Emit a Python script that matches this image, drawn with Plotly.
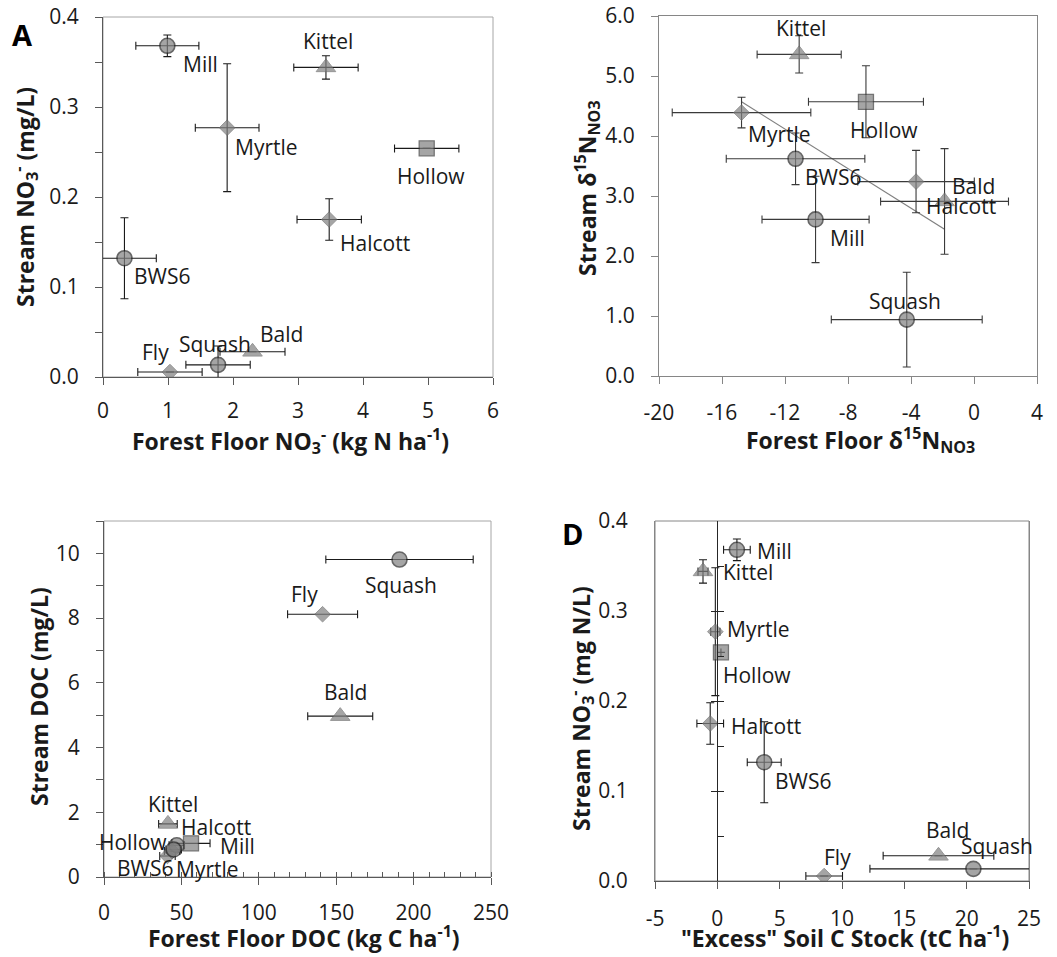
import numpy as np
import plotly.graph_objects as go

W, H = 1057, 957

# ---------------- data ----------------
sites = ["Mill", "Kittel", "Myrtle", "Hollow", "Halcott", "BWS6", "Fly", "Squash", "Bald"]

# Panel A: forest floor NO3- vs stream NO3-
a_ff_no3 = [0.99, 3.43, 1.91, 4.98, 3.48, 0.33, 1.03, 1.77, 2.30]
a_ff_no3_err = [0.485, 0.495, 0.49, 0.495, 0.495, 0.49, 0.495, 0.495, 0.50]
stream_no3 = [0.368, 0.344, 0.277, 0.254, 0.175, 0.132, 0.0055, 0.0135, 0.028]
a_stream_no3_err = [0.012, 0.013, 0.071, 0.0, 0.023, 0.045, 0.0, 0.021, 0.0]

# Panel B: forest floor d15N-NO3 vs stream d15N-NO3 (Fly not measured)
b_ff_d15n = [-10.06, -11.10, -14.76, -6.86, -3.68, -11.33, None, -4.27, -1.87]
b_ff_d15n_err = [3.4, 2.67, 4.4, 3.65, 3.7, 4.4, None, 4.79, 4.06]
b_stream_d15n = [2.61, 5.36, 4.39, 4.57, 3.24, 3.62, None, 0.94, 2.91]
b_stream_d15n_err = [0.72, 0.31, 0.255, 0.6, 0.52, 0.43, None, 0.79, 0.88]

# Panel C: forest floor DOC vs stream DOC
c_ff_doc = [47.0, 41.3, 41.0, 56.2, 44.0, 45.0, 141.2, 190.9, 152.6]
c_ff_doc_err = [5.0, 6.0, 5.0, 12.3, 5.0, 5.0, 22.6, 47.6, 21.0]
c_stream_doc = [0.98, 1.64, 0.65, 1.04, 0.80, 0.85, 8.12, 9.81, 4.97]

# Panel D: "excess" soil C stock vs stream NO3-
d_excess_c = [1.57, -1.15, -0.16, 0.29, -0.57, 3.76, 8.57, 20.54, 17.74]
d_excess_c_err = [1.07, 0.4, 0.37, 0.0, 1.07, 1.36, 1.47, 8.3, 4.44]
d_stream_no3_err = [0.012, 0.013, 0.071, 0.0, 0.023, 0.045, 0.0, 0.0, 0.0]

# tick labels
a_xticks = [0, 1, 2, 3, 4, 5, 6]
a_yticks = [0.0, 0.1, 0.2, 0.3, 0.4]
b_xticks = [-20, -16, -12, -8, -4, 0, 4]
b_xticklabels = ["-20", "-16", "-12", "-8", "-4", "0", "4"]
b_yticks = [0, 1, 2, 3, 4, 5, 6]
c_xticks = [0, 50, 100, 150, 200, 250]
c_yticks = [0, 2, 4, 6, 8, 10]
d_xticks = [-5, 0, 5, 10, 15, 20, 25]
d_xticklabels = ["-5", "0", "5", "10", "15", "20", "25"]
d_yticks = [0.0, 0.1, 0.2, 0.3, 0.4]

# ---------------- styles ----------------
FONT = "Open Sans"
TXT = "#1a1a1a"
FILL = "#808080"
SYM = {"Mill": "circle", "BWS6": "circle", "Squash": "circle", "Hollow": "square",
       "Kittel": "triangle-up", "Bald": "triangle-up",
       "Myrtle": "diamond", "Halcott": "diamond", "Fly": "diamond"}
SIZE = {"circle": 15, "square": 15, "triangle-up": 17, "diamond": 12}
LCOL = {"circle": "#262626", "square": "#3a3a3a", "triangle-up": "#6a6a6a", "diamond": "#6a6a6a"}
LWID = {"circle": 1.6, "square": 1.3, "triangle-up": 1.0, "diamond": 1.0}

# label offsets (pixels, dx right, dy down) relative to each point
A_OFF = {"Mill": (33, 18), "Kittel": (2, -26), "Myrtle": (39, 19), "Hollow": (4, 28),
         "Halcott": (46, 23), "BWS6": (38, 18), "Fly": (-14, -20), "Squash": (-3, -21),
         "Bald": (29, -18)}
B_OFF = {"Kittel": (2, -26), "Hollow": (18, 28), "Myrtle": (38, 21), "BWS6": (37, 18),
         "Mill": (32, 19), "Bald": (29, -15), "Halcott": (45, 24), "Squash": (-2, -19)}
C_OFF = {"Squash": (1, 25), "Fly": (-18, -20), "Bald": (5, -24), "Kittel": (5, -20),
         "Halcott": (44, -24), "Mill": (61, 1), "Hollow": (-58, -1), "BWS6": (-29, 19),
         "Myrtle": (40, 13)}
D_OFF = {"Mill": (38, 1), "Kittel": (45, 1), "Myrtle": (43, -3), "Hollow": (36, 23),
         "Halcott": (56, 2), "BWS6": (39, 19), "Fly": (13, -19), "Bald": (9, -26),
         "Squash": (24, -23)}


def fx(px):
    return px / W


def fy(py):
    return 1 - py / H


fig = go.Figure()
annotations = []


def add_panel(xs, ys, xerr, yerr, xa, ya, errcol, offsets):
    syms = [SYM[s] for s in sites]
    tr = dict(
        x=xs, y=ys, mode="markers", xaxis=xa, yaxis=ya, showlegend=False,
        hoverinfo="skip", cliponaxis=True,
        marker=dict(symbol=syms, size=[SIZE[s] for s in syms], color=FILL,
                    line=dict(color=[LCOL[s] for s in syms], width=[LWID[s] for s in syms])),
        error_x=dict(type="data", array=xerr, color=errcol, thickness=1.1, width=4),
    )
    if yerr is not None:
        tr["error_y"] = dict(type="data", array=yerr, color=errcol, thickness=1.1, width=4)
    fig.add_trace(go.Scatter(**tr))
    for s, x, y in zip(sites, xs, ys):
        if x is None or s not in offsets:
            continue
        dx, dy = offsets[s]
        annotations.append(dict(x=x, y=y, xref=xa, yref=ya, text=s, showarrow=False,
                                xshift=dx, yshift=-dy, xanchor="center", yanchor="middle",
                                font=dict(family=FONT, size=21, color=TXT)))


add_panel(a_ff_no3, stream_no3, a_ff_no3_err, a_stream_no3_err, "x", "y", "#1a1a1a", A_OFF)

# trendline for panel B (least squares over plotted points)
bx = np.array([v for v in b_ff_d15n if v is not None])
by = np.array([v for v in b_stream_d15n if v is not None])
slope, icpt = np.polyfit(bx, by, 1)
tx = np.array([bx.min(), bx.max()])
fig.add_trace(go.Scatter(x=tx, y=slope * tx + icpt, mode="lines", xaxis="x2", yaxis="y2",
                         line=dict(color="#7f7f7f", width=1.2), showlegend=False, hoverinfo="skip"))
add_panel(b_ff_d15n, b_stream_d15n, b_ff_d15n_err, b_stream_d15n_err, "x2", "y2", "#3a3a3a", B_OFF)
add_panel(c_ff_doc, c_stream_doc, c_ff_doc_err, None, "x3", "y3", "#1a1a1a", C_OFF)
add_panel(d_excess_c, stream_no3, d_excess_c_err, d_stream_no3_err, "x4", "y4", "#1a1a1a", D_OFF)
# empty traces so the zero-crossing axes of panel D get drawn
for ya in ("y5", "y6"):
    fig.add_trace(go.Scatter(x=[None], y=[None], xaxis="x4", yaxis=ya, mode="markers",
                             showlegend=False, hoverinfo="skip"))

TICKF = dict(family=FONT, size=21, color=TXT)
AX = dict(showgrid=False, zeroline=False, showline=True, linewidth=1, tickfont=TICKF,
          ticks="outside", ticklen=7, tickwidth=1, fixedrange=True, automargin=False)

dom = {
    "A": ([fx(103), fx(493)], [fy(377), fy(17)]),
    "B": ([fx(659), fx(1037)], [fy(376), fy(16)]),
    "C": ([fx(104), fx(491)], [fy(877), fy(521)]),
    "D": ([fx(655), fx(1029)], [fy(881), fy(521)]),
}
xD0 = dom["D"][0][0] + (dom["D"][0][1] - dom["D"][0][0]) * 5 / 30

layout = dict(
    template="none",
    width=W, height=H, autosize=False, margin=dict(l=0, r=0, t=0, b=0, pad=0),
    paper_bgcolor="white", plot_bgcolor="white", showlegend=False,
    xaxis=dict(AX, domain=dom["A"][0], anchor="y", range=[0, 6], tickvals=a_xticks,
               linecolor="#595959", tickcolor="#595959", ticklabelstandoff=8),
    yaxis=dict(AX, domain=dom["A"][1], anchor="x", range=[0, 0.4], tickvals=a_yticks,
               tickformat=".1f", linecolor="#595959", tickcolor="#595959",
               minor=dict(dtick=0.05, ticks="outside", ticklen=7, tickcolor="#595959"),
               ticklabelstandoff=12),
    xaxis2=dict(AX, domain=dom["B"][0], anchor="y2", range=[-20, 4], tickvals=b_xticks,
                ticktext=b_xticklabels, linecolor="#868686", tickcolor="#868686",
                ticklabelstandoff=11, mirror=True),
    yaxis2=dict(AX, domain=dom["B"][1], anchor="x2", range=[0, 6], tickvals=b_yticks,
                tickformat=".1f", linecolor="#868686", tickcolor="#868686",
                ticklabelstandoff=12, mirror=True),
    xaxis3=dict(AX, domain=dom["C"][0], anchor="y3", range=[0, 250], tickvals=c_xticks,
                linecolor="#595959", tickcolor="#595959", ticklabelstandoff=10,
                minor=dict(dtick=10, ticks="inside", ticklen=5, tickcolor="#595959")),
    yaxis3=dict(AX, domain=dom["C"][1], anchor="x3", range=[0, 11], tickvals=c_yticks,
                linecolor="#595959", tickcolor="#595959", ticklabelstandoff=12,
                minor=dict(dtick=1, ticks="outside", ticklen=7, tickcolor="#595959")),
    xaxis4=dict(AX, domain=dom["D"][0], anchor="y4", range=[-5, 25], tickvals=d_xticks,
                ticktext=d_xticklabels, linecolor="#595959", tickcolor="#595959",
                ticklabelstandoff=12),
    yaxis4=dict(AX, domain=dom["D"][1], anchor="x4", range=[0, 0.4], tickvals=d_yticks,
                tickformat=".1f", linecolor="#868686", ticks="", ticklabelstandoff=22,
                mirror=True),
    # vertical axis crossing at x = 0 in panel D
    yaxis5=dict(showgrid=False, zeroline=False, overlaying="y4", anchor="free",
                position=xD0, domain=dom["D"][1], automargin=False,
                range=[0, 0.4], showline=True, linecolor="#262626", linewidth=1,
                ticks="outside", tickvals=d_yticks[1:-1], ticklen=6, tickcolor="#262626",
                showticklabels=False, fixedrange=True),
    yaxis6=dict(showgrid=False, zeroline=False, overlaying="y4", anchor="free",
                position=xD0, domain=dom["D"][1], automargin=False,
                range=[0, 0.4], showline=False,
                ticks="inside", dtick=0.05, tick0=0, ticklen=6, tickcolor="#262626",
                showticklabels=False, fixedrange=True),
)

# frames (lighter plot-area borders) for panels A and C
shapes = []
for xr, yr in (("x", "y"), ("x3", "y3")):
    shapes.append(dict(type="rect", xref=f"{xr} domain", yref=f"{yr} domain",
                       x0=0, x1=1, y0=0, y1=1, line=dict(color="#a6a6a6", width=1),
                       layer="below"))
shapes.append(dict(type="rect", xref="x4 domain", yref="y4 domain", x0=0, x1=1, y0=0, y1=1,
                   line=dict(color="#868686", width=1), layer="below"))

TITLEF = dict(family=FONT, size=23, color=TXT)


def title(text, px, py, angle=0):
    annotations.append(dict(text=text, x=fx(px), y=fy(py), xref="paper", yref="paper",
                            showarrow=False, xanchor="center", yanchor="middle",
                            textangle=angle, font=TITLEF))


title("<b>Forest Floor NO<sub>3</sub><sup>-</sup> (kg N ha<sup>-1</sup>)</b>", 290, 441)
title("<b>Stream NO<sub>3</sub><sup>-</sup> (mg/L)</b>", 25, 197, -90)
title("<b>Forest Floor δ<sup>15</sup>N<sub>NO3</sub></b>", 860, 440)
title("<b>Stream δ<sup>15</sup>N<sub>NO3</sub></b>", 587, 188, -90)
title("<b>Forest Floor DOC (kg C ha<sup>-1</sup>)</b>", 304, 937)
title("<b>Stream DOC (mg/L)</b>", 39, 697, -90)
title("<b>\"Excess\" Soil C Stock (tC ha<sup>-1</sup>)</b>", 845, 937)
title("<b>Stream NO<sub>3</sub><sup>-</sup> (mg N/L)</b>", 581, 709, -90)

for letter, px, py in (("A", 22, 34), ("D", 572, 533)):
    annotations.append(dict(text=f"<b>{letter}</b>", x=fx(px), y=fy(py), xref="paper",
                            yref="paper", showarrow=False, xanchor="center", yanchor="middle",
                            font=dict(family=FONT, size=29, color="#000000")))

layout["annotations"] = annotations
layout["shapes"] = shapes
fig.update_layout(**layout)

fig.write_html("out.html", include_plotlyjs=True, config={"displayModeBar": False})
